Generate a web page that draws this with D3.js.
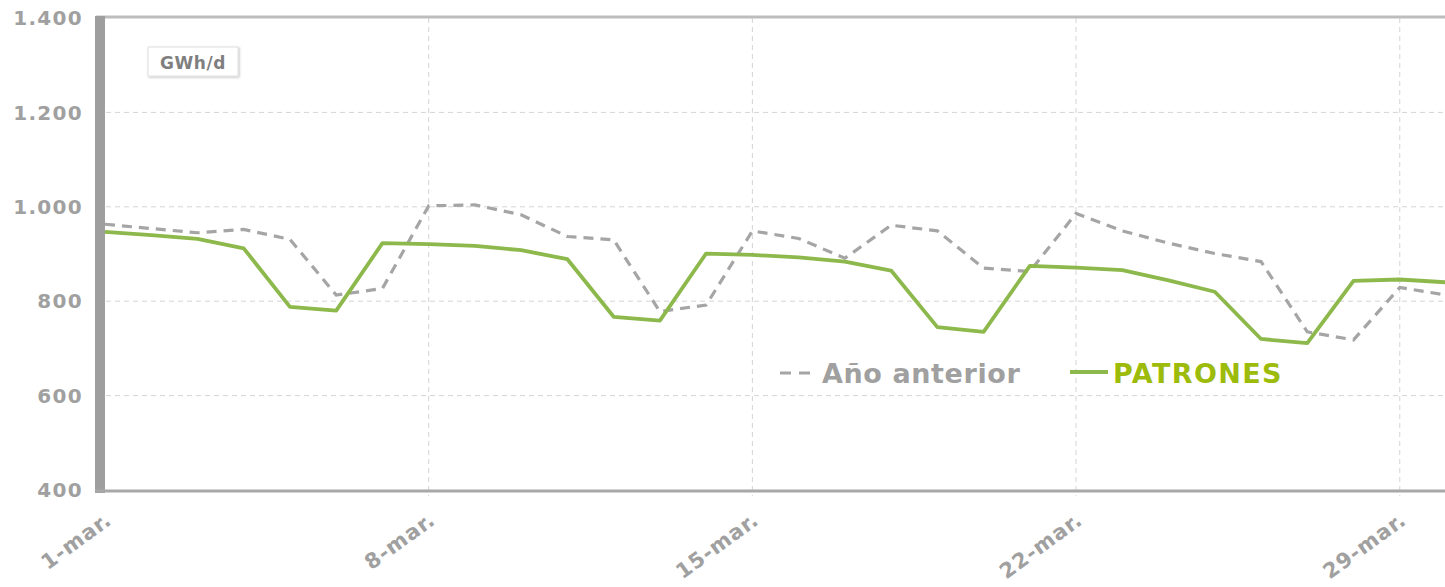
<!DOCTYPE html>
<html>
<head>
<meta charset="utf-8">
<script src="https://cdn.jsdelivr.net/npm/d3@7"></script>
<style>
  body { margin: 0; background: #fff; overflow: hidden; }
  text { font-family: "DejaVu Sans", Verdana, sans-serif; font-weight: bold; }
</style>
</head>
<body>
<svg id="chart" width="1445" height="587"></svg>
<script>
// data (GWh/d per day of March)
const days = d3.range(1, 31);
const anoAnterior = [963, 954, 945, 952, 931, 813, 827, 1002, 1004, 983,
                     937, 930, 778, 792, 949, 933, 891, 961, 949, 870,
                     863, 986, 949, 923, 901, 884, 735, 718, 829, 813];
const patrones = [947, 940, 932, 912, 788, 780, 923, 921, 917, 908,
                  889, 767, 759, 901, 898, 893, 884, 865, 745, 735,
                  875, 871, 866, 844, 820, 720, 711, 843, 846, 840];
const yTicks = [400, 600, 800, 1000, 1200, 1400];
const xTickDays = [1, 8, 15, 22, 29];
const unitLabel = 'GWh/d';

const grayCol = '#a5a5a5';
const greenCol = '#8db84c';

let svg = d3.select('#chart');

let x = d3.scaleLinear().domain([1, 30]).range([105, 1446]);
let y = d3.scaleLinear().domain([400, 1400]).range([490, 18]);

let defs = svg.append('defs');
let shadow = defs.append('filter').attr('id', 'shadow')
    .attr('x', '-10%').attr('y', '-20%').attr('width', '130%').attr('height', '150%');
shadow.append('feDropShadow')
    .attr('dx', 1).attr('dy', 1).attr('stdDeviation', 1.2)
    .attr('flood-color', '#000').attr('flood-opacity', 0.25);

// gridlines
svg.append('g')
    .selectAll('line')
    .data(yTicks.slice(1, -1))
    .enter().append('line')
    .attr('x1', 106).attr('x2', 1445)
    .attr('y1', d => y(d)).attr('y2', d => y(d))
    .attr('stroke', '#d4d4d4').attr('stroke-width', 1)
    .attr('stroke-dasharray', '5,4');

svg.append('g')
    .selectAll('line')
    .data(xTickDays.slice(1))
    .enter().append('line')
    .attr('x1', d => x(d)).attr('x2', d => x(d))
    .attr('y1', 18).attr('y2', 496)
    .attr('stroke', '#d4d4d4').attr('stroke-width', 1)
    .attr('stroke-dasharray', '5,4');

// frame: top border, thick left bar, bottom axis
svg.append('line')
    .attr('x1', 96).attr('x2', 1445).attr('y1', 17).attr('y2', 17)
    .attr('stroke', '#bdbdbd').attr('stroke-width', 3);
svg.append('rect')
    .attr('x', 95).attr('y', 16).attr('width', 10).attr('height', 477)
    .attr('fill', '#9e9e9e');
svg.append('line')
    .attr('x1', 95).attr('x2', 1445).attr('y1', 491).attr('y2', 491)
    .attr('stroke', '#a8a8a8').attr('stroke-width', 3);

// y tick labels
let fmt = d => d3.format(',')(d).replace(',', '.');
svg.append('g')
    .selectAll('text')
    .data(yTicks)
    .enter().append('text')
    .attr('x', 83).attr('y', d => y(d))
    .attr('dy', '0.36em')
    .attr('text-anchor', 'end')
    .attr('fill', '#a0a0a0')
    .attr('font-size', 20)
    .attr('letter-spacing', 1.3)
    .text(fmt);

// x tick labels
svg.append('g')
    .selectAll('text')
    .data(xTickDays)
    .enter().append('text')
    .attr('transform', d => 'translate(' + (x(d) + 8) + ',523) rotate(-36)')
    .attr('text-anchor', 'end')
    .attr('fill', '#a0a0a0')
    .attr('font-size', 21)
    .attr('letter-spacing', 1)
    .text(d => d + '-mar.');

// lines
let line = d3.line()
    .x((d, i) => x(days[i]))
    .y(d => y(d));

svg.append('path')
    .datum(anoAnterior)
    .attr('d', line)
    .attr('fill', 'none')
    .attr('stroke', grayCol)
    .attr('stroke-width', 3.2)
    .attr('stroke-dasharray', '10,7');

svg.append('path')
    .datum(patrones)
    .attr('d', line)
    .attr('fill', 'none')
    .attr('stroke', greenCol)
    .attr('stroke-width', 3.8)
    .attr('stroke-linejoin', 'round');

// unit box
svg.append('rect')
    .attr('x', 148).attr('y', 47).attr('width', 90).attr('height', 29)
    .attr('fill', '#fff').attr('stroke', '#e0e0e0').attr('stroke-width', 1)
    .attr('filter', 'url(#shadow)');
svg.append('text')
    .attr('x', 193).attr('y', 69)
    .attr('text-anchor', 'middle')
    .attr('fill', '#7f7f7f')
    .attr('font-size', 17)
    .attr('letter-spacing', 0.6)
    .text(unitLabel);

// legend
let legend = svg.append('g');
legend.append('line')
    .attr('x1', 780).attr('x2', 817).attr('y1', 373).attr('y2', 373)
    .attr('stroke', grayCol).attr('stroke-width', 3).attr('stroke-dasharray', '11,8');
legend.append('text')
    .attr('x', 822).attr('y', 383)
    .attr('fill', '#a0a0a0').attr('font-size', 27)
    .attr('letter-spacing', 0.6)
    .text('Año anterior');
legend.append('line')
    .attr('x1', 1070).attr('x2', 1108).attr('y1', 372).attr('y2', 372)
    .attr('stroke', greenCol).attr('stroke-width', 3.8);
legend.append('text')
    .attr('x', 1113).attr('y', 383)
    .attr('fill', '#9dbb0a').attr('font-size', 27)
    .attr('letter-spacing', 1.4)
    .text('PATRONES');
</script>
</body>
</html>
